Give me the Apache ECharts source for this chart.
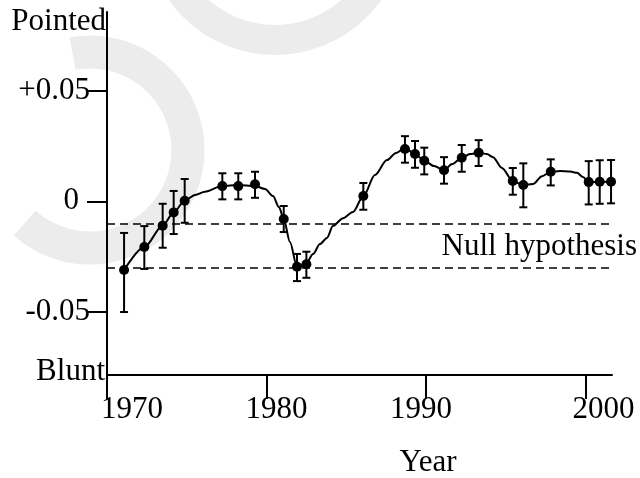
<!DOCTYPE html>
<html>
<head>
<meta charset="utf-8">
<script src="https://cdn.jsdelivr.net/npm/echarts@6/dist/echarts.min.js"></script>
<style>
  html, body { margin: 0; padding: 0; background: #fff; }
  #chart { width: 640px; height: 478px; }
</style>
</head>
<body>
<div id="chart"></div>
<script>
'use strict';

// fitted curve
var curveYears = [1971.07, 1972.34, 1973.49, 1974.18, 1974.87, 1975.52, 1976.14,
  1977.21, 1978.21, 1979.28, 1979.91, 1980.41, 1980.78, 1981.08, 1981.47, 1981.91,
  1982.16, 1982.50, 1982.92, 1983.35, 1983.79, 1984.17, 1984.80, 1985.42, 1986.07,
  1986.80, 1987.55, 1988.12, 1988.68, 1989.31, 1989.89, 1990.50, 1991.13, 1991.63,
  1992.24, 1992.76, 1993.30, 1993.82, 1994.20, 1994.76, 1995.44, 1996.10, 1996.71,
  1997.27, 1997.82, 1998.40, 1999.03, 1999.47, 1999.84, 2000.20, 2000.89, 2001.60,
  2002.48, 2002.92, 2003.17];
var curveValues = [-0.0311, -0.0207, -0.0110, -0.0050, 0.0003, 0.0029, 0.0043,
  0.0069, 0.0074, 0.0069, 0.0056, 0.0024, -0.0026, -0.0080, -0.0184, -0.0296,
  -0.0293, -0.0279, -0.0238, -0.0193, -0.0166, -0.0111, -0.0076, -0.0048, 0.0024,
  0.0119, 0.0187, 0.0219, 0.0241, 0.0214, 0.0184, 0.0160, 0.0141, 0.0169,
  0.0197, 0.0214, 0.0220, 0.0214, 0.0200, 0.0151, 0.0092, 0.0074, 0.0078,
  0.0114, 0.0134, 0.0137, 0.0135, 0.0129, 0.0110, 0.0087, 0.0089, 0.0089,
  0.0089, 0.0089, 0.0078];

// observations with error bars
var pointYears = [1971.07, 1972.34, 1973.49, 1974.18, 1974.87, 1977.23, 1978.23,
  1979.28, 1981.08, 1981.91, 1982.50, 1986.07, 1988.68, 1989.31, 1989.89, 1991.13,
  1992.24, 1993.30, 1995.44, 1996.10, 1997.82, 2000.20, 2000.89, 2001.60];
var pointValues = [-0.0311, -0.0207, -0.0110, -0.0050, 0.0003, 0.0069, 0.0069,
  0.0077, -0.0080, -0.0296, -0.0285, 0.0024, 0.0237, 0.0214, 0.0184, 0.0141,
  0.0197, 0.0220, 0.0092, 0.0074, 0.0134, 0.0087, 0.0089, 0.0089];
var errHigh = [-0.0143, -0.0112, -0.0011, 0.0047, 0.0101, 0.0127, 0.0127,
  0.0134, -0.0021, -0.0238, -0.0228, 0.0083, 0.0295, 0.0273, 0.0243, 0.0200,
  0.0255, 0.0277, 0.0151, 0.0172, 0.0190, 0.0182, 0.0186, 0.0187];
var errLow = [-0.0501, -0.0306, -0.0210, -0.0148, -0.0097, 0.0009, 0.0009,
  0.0016, -0.0139, -0.0361, -0.0346, -0.0038, 0.0175, 0.0152, 0.0122, 0.0080,
  0.0134, 0.0160, 0.0030, -0.0027, 0.0072, -0.0014, -0.0011, -0.0009];

var nullLevels = [-0.0107, -0.0311];

var xTicks = [1970, 1980, 1990, 2000];
var yTicks = [-0.05, 0, 0.05];
var yTickLabels = ['-0.05', '0', '+0.05'];

var FONT = 'Liberation Serif, Times New Roman, serif';

var chart = echarts.init(document.getElementById('chart'), null, { renderer: 'canvas' });

var curveData = curveYears.map(function(y, i) { return [y, curveValues[i]]; });
var pointData = pointYears.map(function(y, i) { return [y, pointValues[i]]; });
var barData = pointYears.map(function(y, i) { return [y, errLow[i], errHigh[i]]; });

function renderErrorBar(params, api) {
  var lo = api.coord([api.value(0), api.value(1)]);
  var hi = api.coord([api.value(0), api.value(2)]);
  var w = 4;
  var style = { stroke: '#000', lineWidth: 2 };
  return {
    type: 'group',
    children: [
      { type: 'line', shape: { x1: lo[0], y1: lo[1], x2: hi[0], y2: hi[1] }, style: style },
      { type: 'line', shape: { x1: lo[0] - w, y1: lo[1], x2: lo[0] + w, y2: lo[1] }, style: style },
      { type: 'line', shape: { x1: hi[0] - w, y1: hi[1], x2: hi[0] + w, y2: hi[1] }, style: style }
    ]
  };
}

var xRich = {
  a: { padding: [0, 0, 0, 50] },
  b: { padding: [0, 0, 0, 20] },
  c: { padding: [0, 10, 0, 0] },
  d: { padding: [0, 0, 0, 36] }
};
var xKeys = { 1970: 'a', 1980: 'b', 1990: 'c', 2000: 'd' };

function textEl(text, x, y, align) {
  return {
    type: 'text',
    z: 10,
    style: {
      text: text, x: x, y: y,
      fill: '#000',
      font: '31px ' + FONT,
      textAlign: align, textVerticalAlign: 'middle',
      align: align, verticalAlign: 'middle'
    }
  };
}

chart.setOption({
  backgroundColor: '#fff',
  animation: false,
  grid: { left: 107, right: 28, top: 12, bottom: 103, containLabel: false },
  xAxis: {
    type: 'value',
    min: 1970,
    max: 2001.66,
    splitLine: { show: false },
    axisLine: { onZero: false, lineStyle: { color: '#000', width: 2 } },
    axisTick: { customValues: xTicks, length: 24, lineStyle: { color: '#000', width: 2 } },
    axisLabel: {
      customValues: xTicks,
      margin: 19,
      color: '#000',
      fontFamily: FONT,
      fontSize: 31,
      formatter: function(v) { return '{' + xKeys[v] + '|' + v + '}'; },
      rich: xRich
    }
  },
  yAxis: {
    type: 'value',
    min: -0.0786,
    max: 0.0857,
    splitLine: { show: false },
    axisLine: { show: true, onZero: false, lineStyle: { color: '#000', width: 2 } },
    axisTick: { show: true, customValues: yTicks, length: 20, lineStyle: { color: '#000', width: 2 } },
    axisLabel: {
      customValues: yTicks,
      margin: 17,
      color: '#000',
      fontFamily: FONT,
      fontSize: 31,
      formatter: function(v) {
        var i = yTicks.indexOf(v);
        return i === 1 ? '{z|0}' : yTickLabels[i];
      },
      rich: { z: { padding: [0, 11, 0, 0] } }
    }
  },
  graphic: [
    // faint watermark shapes behind the plot
    { type: 'arc', z: -10, shape: { cx: 275, cy: -75, r: 115, startAngle: 0, endAngle: Math.PI },
      style: { stroke: '#ececec', lineWidth: 30, fill: null } },
    { type: 'arc', z: -10, shape: { cx: 90, cy: 150, r: 98, startAngle: -1.75, endAngle: 2.3, clockwise: true },
      style: { stroke: '#ececec', lineWidth: 33, fill: null } },
    textEl('Pointed', 106, 22, 'right'),
    textEl('Blunt', 105, 372, 'right'),
    textEl('Null hypothesis', 637, 247, 'right'),
    textEl('Year', 428, 463, 'center')
  ],
  series: [
    {
      type: 'line',
      data: curveData,
      showSymbol: false,
      smooth: 0.3,
      smoothMonotone: 'x',
      clip: false,
      lineStyle: { color: '#000', width: 2 },
      markLine: {
        silent: true,
        symbol: 'none',
        label: { show: false },
        lineStyle: { color: '#000', width: 1.5, type: [8, 5] },
        data: nullLevels.map(function(v) { return { yAxis: v }; })
      },
      z: 3
    },
    {
      type: 'custom',
      data: barData,
      renderItem: renderErrorBar,
      clip: false,
      z: 4
    },
    {
      type: 'scatter',
      data: pointData,
      symbolSize: 10,
      itemStyle: { color: '#000', opacity: 1 },
      clip: false,
      z: 5
    }
  ]
});
</script>
</body>
</html>
